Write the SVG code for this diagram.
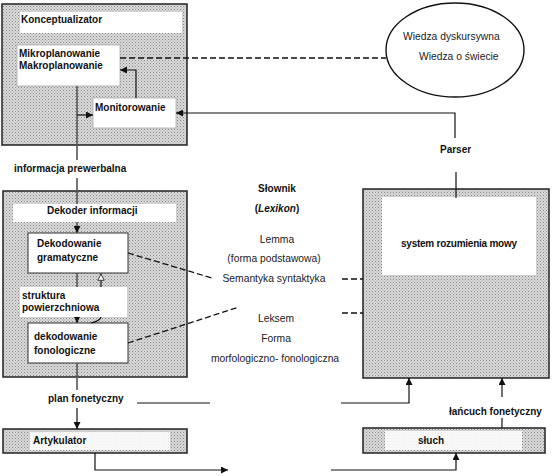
<svg xmlns="http://www.w3.org/2000/svg" width="552" height="476" viewBox="0 0 552 476">
<defs>
<pattern id="stip" width="3" height="3" patternUnits="userSpaceOnUse">
<rect width="3" height="3" fill="#dadada"/>
<rect width="1" height="1" fill="#888"/>
<rect x="1.5" y="1.5" width="1" height="1" fill="#9e9e9e"/>
</pattern>
<marker id="ah" viewBox="0 0 10 10" refX="10" refY="5" markerWidth="7" markerHeight="7" markerUnits="userSpaceOnUse" orient="auto">
<path d="M0,0 L10,5 L0,10 Z" fill="#111"/>
</marker>
<marker id="ahh" viewBox="0 0 10 10" refX="9.5" refY="5" markerWidth="8" markerHeight="8" markerUnits="userSpaceOnUse" orient="auto">
<path d="M1,1 L9,5 L1,9 Z" fill="#fff" stroke="#333" stroke-width="1.2"/>
</marker>
</defs>
<style>
.cont{fill:url(#stip);stroke:#222;stroke-width:1.5}
.wl{fill:#fff}
.ib{fill:#fff;stroke:#333;stroke-width:1}
.sb{fill:#fff;stroke:#aaa;stroke-width:0.8}
.b{font-family:"Liberation Sans",Arial,sans-serif;font-size:10px;font-weight:bold;fill:#111}
.r{font-family:"Liberation Sans",Arial,sans-serif;font-size:10.3px;fill:#222}
.c{text-anchor:middle}
.ln{fill:none;stroke:#111;stroke-width:1.2}
.main{fill:none;stroke:#555;stroke-width:1.6}
.dash{fill:none;stroke:#111;stroke-width:1.3;stroke-dasharray:6,3}
</style>
<rect width="552" height="476" fill="#fff"/>

<g id="konceptualizator">
<rect class="cont" x="2" y="4" width="185" height="141"/>
<rect class="wl" x="20" y="12" width="162" height="21"/>
<text class="b" x="21" y="23">Konceptualizator</text>
</g>
<g id="planowanie">
<rect class="sb" x="17" y="45" width="103" height="41"/>
<text class="b" x="19" y="57">Mikroplanowanie</text>
<text class="b" x="19" y="69">Makroplanowanie</text>
</g>
<g id="monitorowanie">
<rect class="sb" x="93" y="98" width="83" height="30"/>
<text class="b" x="95" y="111">Monitorowanie</text>
</g>
<g id="wiedza">
<ellipse cx="455" cy="50" rx="69" ry="47" fill="#fff" stroke="#111" stroke-width="1.4"/>
<text class="r" x="403" y="39.5">Wiedza dyskursywna</text>
<text class="r" x="419" y="59.5">Wiedza o świecie</text>
</g>
<g id="dekoder">
<rect class="cont" x="3" y="191" width="184" height="186"/>
<rect class="wl" x="13" y="204" width="163" height="18"/>
<text class="b" x="47" y="214">Dekoder informacji</text>
</g>
<g id="dekodowanie-gramatyczne">
<rect class="ib" x="28" y="233" width="100" height="40"/>
<text class="b" x="37" y="247">Dekodowanie</text>
<text class="b" x="37" y="261">gramatyczne</text>
</g>
<g id="dekodowanie-fonologiczne">
<rect class="ib" x="28" y="323" width="100" height="40"/>
<text class="b" x="34" y="340">dekodowanie</text>
<text class="b" x="34" y="354">fonologiczne</text>
</g>
<g id="system-rozumienia">
<rect class="cont" x="363" y="189" width="186" height="189"/>
<rect class="wl" x="382" y="197" width="154" height="78"/>
<text class="b" x="401" y="247" textLength="116">system rozumienia mowy</text>
</g>
<g id="artykulator">
<rect class="cont" x="3" y="429" width="184" height="24"/>
<rect class="wl" x="30" y="432" width="140" height="18" opacity="0.85"/>
<text class="b" x="33" y="444">Artykulator</text>
</g>
<g id="sluch">
<rect class="cont" x="363" y="428" width="182" height="25"/>
<rect class="wl" x="385" y="431" width="137" height="19" opacity="0.85"/>
<text class="b" x="418" y="443.5">słuch</text>
</g>
<g id="slownik">
<text class="b c" x="277" y="191.5">Słownik</text>
<text class="b c" x="277" y="211.5">(<tspan font-style="italic">Lexikon</tspan>)</text>
<text class="r c" x="277" y="243">Lemma</text>
<text class="r c" x="274" y="262">(forma podstawowa)</text>
<text class="r c" x="274" y="282">Semantyka syntaktyka</text>
<text class="r c" x="276" y="322">Leksem</text>
<text class="r c" x="276" y="342">Forma</text>
<text class="r c" x="275" y="362">morfologiczno- fonologiczna</text>
</g>

<g id="connectors">
<path class="main" d="M77,86 V160 M77,178 V204"/>
<path class="main" d="M77,222 V233" marker-end="url(#ah)"/>
<path class="main" d="M77,273 V287"/>
<path class="main" d="M77,317 V323" marker-end="url(#ah)"/>
<path class="main" d="M77,363 V390"/>
<path class="ln" d="M77,408 V429" marker-end="url(#ah)"/>
<path class="ln" d="M77,115 H93" marker-end="url(#ah)"/>
<path class="ln" d="M136,98 V70 H120" marker-end="url(#ah)"/>
<path class="dash" d="M120,58 H386"/>
<path class="ln" d="M455,138 V113 H176" marker-end="url(#ah)"/>
<path class="ln" d="M456,172 V198"/>
<path class="ln" d="M101,287 V273.5" stroke="#333" marker-end="url(#ahh)"/>
<path class="ln" d="M101,317 Q100,321 91,323" stroke="#333"/>
<path class="dash" d="M128,253 L212,278"/>
<path class="dash" d="M128,343 L239,307"/>
<path class="dash" d="M342,279 H363"/>
<path class="dash" d="M342,313 H363"/>
<path class="ln" d="M137,403 H210"/>
<path class="ln" d="M95,453 V470 H228" marker-end="url(#ah)"/>
<path class="ln" d="M341,403 H409 V378" marker-end="url(#ah)"/>
<path class="ln" d="M502,397 V378" marker-end="url(#ah)"/>
<path class="ln" d="M502,428 V418"/>
<path class="ln" d="M331,470 H456 V453" marker-end="url(#ah)"/>
</g>

<g id="labels">
<text class="b" x="14" y="172">informacja prewerbalna</text>
<text class="b" x="440" y="153">Parser</text>
<rect class="wl" x="20" y="287" width="107" height="30"/>
<text class="b" x="22" y="299">struktura</text>
<text class="b" x="22" y="311">powierzchniowa</text>
<text class="b" x="48" y="401.5">plan fonetyczny</text>
<text class="b" x="449" y="415">łańcuch fonetyczny</text>
</g>
</svg>
